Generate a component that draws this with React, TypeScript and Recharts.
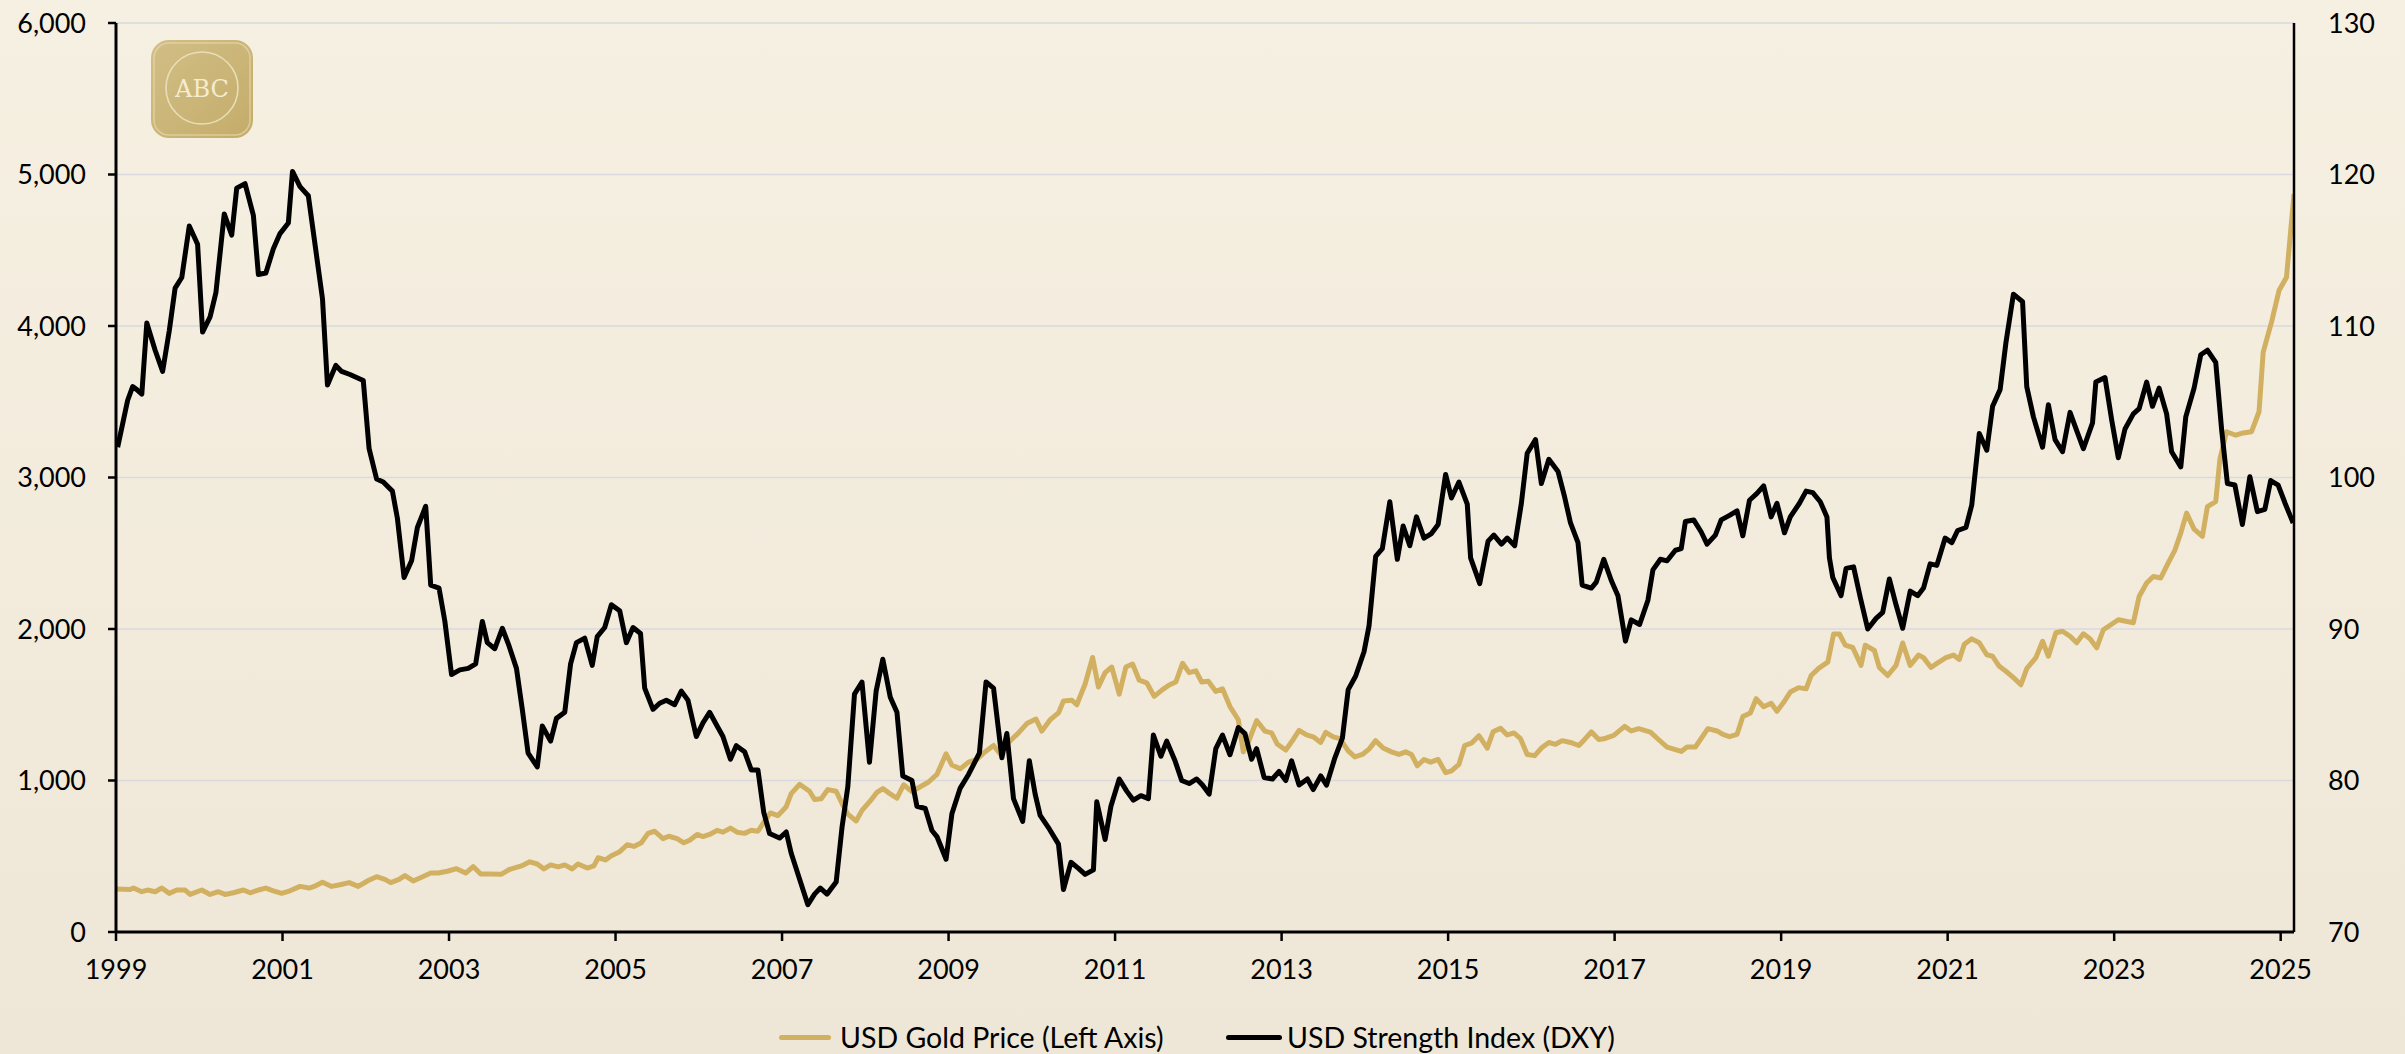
import React from 'react';
import { LineChart, Line, XAxis, YAxis, CartesianGrid, Legend } from 'recharts';

const yearTicks = [1999, 2001, 2003, 2005, 2007, 2009, 2011, 2013, 2015, 2017, 2019, 2021, 2023, 2025];
const goldTicks = [0, 1000, 2000, 3000, 4000, 5000, 6000];
const dxyTicks = [70, 80, 90, 100, 110, 120, 130];

const seriesNames = ['USD Gold Price (Left Axis)', 'USD Strength Index (DXY)'];

// [time (chart years), USD gold price]
const goldPoints: [number, number][] = [
  [1999.0, 284], [1999.17, 280], [1999.21, 290], [1999.31, 266], [1999.38, 277], [1999.47, 266], [1999.55, 290], [1999.64, 255],
  [1999.73, 277], [1999.83, 277], [1999.89, 248], [2000.03, 277], [2000.13, 248], [2000.23, 266], [2000.31, 248], [2000.41, 259],
  [2000.53, 277], [2000.61, 259], [2000.71, 277], [2000.8, 290], [2000.89, 272], [2000.99, 255], [2001.09, 272], [2001.21, 301],
  [2001.32, 290], [2001.38, 301], [2001.48, 329], [2001.59, 301], [2001.69, 312], [2001.8, 326], [2001.91, 301], [2002.03, 340],
  [2002.13, 365], [2002.23, 347], [2002.3, 326], [2002.4, 347], [2002.47, 372], [2002.57, 337], [2002.67, 361], [2002.78, 389],
  [2002.87, 389], [2002.98, 401], [2003.09, 418], [2003.2, 389], [2003.29, 432], [2003.38, 383], [2003.49, 383], [2003.63, 382],
  [2003.73, 414], [2003.87, 436], [2003.97, 463], [2004.06, 449], [2004.14, 416], [2004.22, 443], [2004.31, 430], [2004.39, 443],
  [2004.48, 416], [2004.55, 449], [2004.66, 422], [2004.74, 436], [2004.79, 490], [2004.88, 476], [2004.95, 503], [2005.05, 530],
  [2005.14, 576], [2005.22, 565], [2005.31, 589], [2005.39, 651], [2005.47, 665], [2005.57, 616], [2005.64, 632], [2005.74, 616],
  [2005.82, 589], [2005.89, 606], [2005.98, 644], [2006.05, 630], [2006.13, 644], [2006.22, 671], [2006.29, 659], [2006.38, 686],
  [2006.46, 659], [2006.55, 651], [2006.63, 671], [2006.71, 665], [2006.78, 724], [2006.86, 786], [2006.95, 768], [2007.05, 827],
  [2007.11, 913], [2007.21, 975], [2007.33, 929], [2007.39, 875], [2007.47, 880], [2007.55, 940], [2007.65, 929], [2007.72, 848],
  [2007.79, 778], [2007.89, 733], [2007.96, 803], [2008.06, 865], [2008.14, 922], [2008.21, 947], [2008.29, 915], [2008.38, 883],
  [2008.46, 972], [2008.56, 927], [2008.64, 952], [2008.76, 990], [2008.86, 1040], [2008.97, 1176], [2009.04, 1102], [2009.14, 1077],
  [2009.24, 1121], [2009.34, 1139], [2009.42, 1181], [2009.54, 1231], [2009.62, 1176], [2009.72, 1251], [2009.84, 1314], [2009.94, 1376],
  [2010.05, 1406], [2010.12, 1326], [2010.22, 1401], [2010.32, 1446], [2010.38, 1525], [2010.48, 1530], [2010.54, 1500], [2010.64, 1637],
  [2010.73, 1812], [2010.8, 1617], [2010.88, 1712], [2010.96, 1749], [2011.05, 1570], [2011.13, 1749], [2011.21, 1769], [2011.29, 1662],
  [2011.38, 1645], [2011.47, 1555], [2011.57, 1600], [2011.65, 1630], [2011.73, 1650], [2011.81, 1774], [2011.89, 1712], [2011.97, 1724],
  [2012.04, 1650], [2012.12, 1655], [2012.21, 1588], [2012.29, 1605], [2012.38, 1488], [2012.48, 1401], [2012.54, 1189], [2012.6, 1251],
  [2012.7, 1395], [2012.8, 1326], [2012.88, 1314], [2012.95, 1239], [2013.05, 1201], [2013.14, 1271], [2013.21, 1331], [2013.3, 1301],
  [2013.38, 1288], [2013.47, 1251], [2013.53, 1318], [2013.62, 1288], [2013.7, 1276], [2013.8, 1196], [2013.88, 1156], [2013.97, 1172],
  [2014.05, 1207], [2014.13, 1263], [2014.22, 1214], [2014.32, 1189], [2014.41, 1172], [2014.49, 1189], [2014.56, 1172], [2014.63, 1097],
  [2014.71, 1139], [2014.79, 1121], [2014.88, 1139], [2014.97, 1052], [2015.04, 1064], [2015.13, 1107], [2015.2, 1231], [2015.28, 1246],
  [2015.37, 1296], [2015.47, 1214], [2015.54, 1321], [2015.63, 1345], [2015.71, 1301], [2015.79, 1314], [2015.87, 1276], [2015.95, 1172],
  [2016.04, 1164], [2016.12, 1214], [2016.21, 1251], [2016.29, 1239], [2016.37, 1263], [2016.47, 1251], [2016.57, 1231], [2016.64, 1271],
  [2016.72, 1321], [2016.81, 1271], [2016.87, 1275], [2016.99, 1298], [2017.12, 1357], [2017.2, 1327], [2017.29, 1342], [2017.43, 1319],
  [2017.53, 1269], [2017.63, 1221], [2017.8, 1192], [2017.87, 1221], [2017.97, 1221], [2018.12, 1342], [2018.23, 1327], [2018.3, 1304],
  [2018.38, 1289], [2018.47, 1304], [2018.54, 1422], [2018.63, 1446], [2018.7, 1540], [2018.79, 1487], [2018.88, 1510], [2018.95, 1457],
  [2019.03, 1516], [2019.11, 1584], [2019.21, 1613], [2019.3, 1605], [2019.36, 1693], [2019.45, 1740], [2019.56, 1781], [2019.63, 1967],
  [2019.7, 1967], [2019.77, 1893], [2019.86, 1878], [2019.96, 1760], [2020.01, 1893], [2020.12, 1858], [2020.18, 1746], [2020.28, 1693],
  [2020.38, 1760], [2020.46, 1908], [2020.55, 1760], [2020.65, 1828], [2020.71, 1811], [2020.8, 1746], [2020.88, 1776], [2020.98, 1811],
  [2021.07, 1828], [2021.14, 1799], [2021.2, 1899], [2021.29, 1935], [2021.38, 1909], [2021.47, 1830], [2021.54, 1820], [2021.62, 1754],
  [2021.7, 1721], [2021.79, 1679], [2021.88, 1632], [2021.95, 1738], [2022.06, 1811], [2022.14, 1919], [2022.21, 1820], [2022.3, 1975],
  [2022.38, 1985], [2022.47, 1952], [2022.55, 1909], [2022.63, 1968], [2022.71, 1935], [2022.79, 1876], [2022.87, 1995], [2022.96, 2028],
  [2023.05, 2061], [2023.14, 2051], [2023.23, 2041], [2023.3, 2215], [2023.39, 2304], [2023.47, 2347], [2023.56, 2337], [2023.65, 2436],
  [2023.73, 2521], [2023.8, 2634], [2023.87, 2765], [2023.96, 2659], [2024.06, 2611], [2024.12, 2808], [2024.22, 2841], [2024.27, 3121],
  [2024.35, 3302], [2024.46, 3279], [2024.53, 3292], [2024.65, 3302], [2024.74, 3434], [2024.79, 3828], [2024.89, 4026], [2024.98, 4234],
  [2025.07, 4322], [2025.16, 4872],
];

// [time (chart years), DXY index]
const dxyPoints: [number, number][] = [
  [1999.02, 102.0], [1999.14, 105.1], [1999.2, 106.0], [1999.25, 105.8], [1999.31, 105.5], [1999.37, 110.2], [1999.47, 108.4], [1999.56, 107.0],
  [1999.64, 109.7], [1999.71, 112.5], [1999.79, 113.2], [1999.88, 116.6], [1999.98, 115.4], [2000.04, 109.6], [2000.13, 110.6], [2000.2, 112.2],
  [2000.3, 117.4], [2000.39, 116.0], [2000.45, 119.1], [2000.55, 119.4], [2000.65, 117.3], [2000.71, 113.4], [2000.8, 113.5], [2000.89, 115.1],
  [2000.97, 116.1], [2001.07, 116.8], [2001.12, 120.2], [2001.21, 119.2], [2001.31, 118.6], [2001.39, 115.4], [2001.48, 111.8], [2001.54, 106.1],
  [2001.64, 107.4], [2001.71, 107.0], [2001.81, 106.8], [2001.97, 106.4], [2002.04, 101.9], [2002.13, 99.9], [2002.21, 99.7], [2002.32, 99.1],
  [2002.38, 97.3], [2002.46, 93.4], [2002.55, 94.5], [2002.62, 96.7], [2002.72, 98.1], [2002.78, 92.9], [2002.88, 92.7], [2002.95, 90.5],
  [2003.03, 87.0], [2003.13, 87.3], [2003.23, 87.4], [2003.32, 87.7], [2003.4, 90.5], [2003.46, 89.1], [2003.55, 88.7], [2003.64, 90.05],
  [2003.72, 88.9], [2003.81, 87.4], [2003.88, 84.7], [2003.95, 81.8], [2004.06, 80.9], [2004.12, 83.6], [2004.22, 82.6], [2004.29, 84.1],
  [2004.39, 84.5], [2004.46, 87.7], [2004.53, 89.1], [2004.63, 89.4], [2004.72, 87.6], [2004.78, 89.5], [2004.87, 90.1], [2004.95, 91.6],
  [2005.05, 91.2], [2005.13, 89.1], [2005.21, 90.1], [2005.3, 89.7], [2005.35, 86.1], [2005.45, 84.7], [2005.53, 85.1], [2005.61, 85.3],
  [2005.71, 85.0], [2005.79, 85.9], [2005.87, 85.3], [2005.97, 82.9], [2006.05, 83.8], [2006.13, 84.5], [2006.21, 83.7], [2006.29, 82.9],
  [2006.38, 81.4], [2006.45, 82.3], [2006.55, 81.9], [2006.63, 80.7], [2006.71, 80.7], [2006.78, 77.9], [2006.85, 76.5], [2006.97, 76.2],
  [2007.05, 76.6], [2007.11, 75.2], [2007.21, 73.5], [2007.31, 71.8], [2007.39, 72.5], [2007.46, 72.9], [2007.54, 72.5], [2007.65, 73.3],
  [2007.72, 76.9], [2007.79, 79.6], [2007.87, 85.7], [2007.96, 86.5], [2008.05, 81.2], [2008.13, 85.9], [2008.21, 88.0], [2008.3, 85.5],
  [2008.38, 84.5], [2008.45, 80.3], [2008.56, 80.0], [2008.62, 78.3], [2008.72, 78.15], [2008.8, 76.7], [2008.86, 76.3], [2008.97, 74.8],
  [2009.04, 77.8], [2009.14, 79.5], [2009.24, 80.4], [2009.37, 81.8], [2009.45, 86.5], [2009.54, 86.1], [2009.64, 81.5], [2009.7, 83.1],
  [2009.78, 78.8], [2009.89, 77.3], [2009.97, 81.3], [2010.04, 79.1], [2010.1, 77.7], [2010.21, 76.8], [2010.32, 75.8], [2010.38, 72.8],
  [2010.47, 74.6], [2010.56, 74.2], [2010.64, 73.8], [2010.74, 74.1], [2010.78, 78.6], [2010.88, 76.1], [2010.95, 78.3], [2011.05, 80.1],
  [2011.14, 79.3], [2011.22, 78.7], [2011.31, 79.0], [2011.4, 78.8], [2011.46, 83.0], [2011.55, 81.6], [2011.62, 82.6], [2011.72, 81.3],
  [2011.8, 80.0], [2011.89, 79.8], [2011.98, 80.1], [2012.05, 79.7], [2012.13, 79.1], [2012.21, 82.1], [2012.29, 83.0], [2012.38, 81.7],
  [2012.48, 83.5], [2012.56, 83.1], [2012.64, 81.4], [2012.7, 82.1], [2012.79, 80.2], [2012.89, 80.1], [2012.97, 80.6], [2013.05, 80.0],
  [2013.12, 81.3], [2013.21, 79.7], [2013.31, 80.1], [2013.38, 79.4], [2013.47, 80.3], [2013.54, 79.7], [2013.64, 81.5], [2013.73, 82.8],
  [2013.8, 86.0], [2013.89, 86.9], [2013.99, 88.5], [2014.05, 90.2], [2014.13, 94.8], [2014.21, 95.3], [2014.3, 98.4], [2014.39, 94.6],
  [2014.46, 96.8], [2014.54, 95.5], [2014.62, 97.4], [2014.71, 96.0], [2014.8, 96.3], [2014.88, 96.9], [2014.97, 100.2], [2015.04, 98.65],
  [2015.13, 99.7], [2015.23, 98.25], [2015.27, 94.7], [2015.38, 93.0], [2015.48, 95.8], [2015.55, 96.2], [2015.64, 95.6], [2015.71, 96.0],
  [2015.8, 95.5], [2015.88, 98.3], [2015.95, 101.6], [2016.05, 102.5], [2016.12, 99.6], [2016.21, 101.2], [2016.32, 100.4], [2016.4, 98.7],
  [2016.47, 97.0], [2016.56, 95.7], [2016.61, 92.9], [2016.72, 92.7], [2016.78, 93.1], [2016.87, 94.6], [2016.96, 93.2], [2017.04, 92.2],
  [2017.13, 89.2], [2017.2, 90.6], [2017.3, 90.3], [2017.4, 91.9], [2017.46, 93.9], [2017.55, 94.6], [2017.63, 94.5], [2017.73, 95.2],
  [2017.8, 95.3], [2017.85, 97.1], [2017.95, 97.2], [2018.04, 96.4], [2018.11, 95.6], [2018.21, 96.2], [2018.28, 97.2], [2018.38, 97.5],
  [2018.47, 97.8], [2018.54, 96.15], [2018.62, 98.5], [2018.71, 98.95], [2018.79, 99.45], [2018.88, 97.4], [2018.95, 98.3], [2019.04, 96.35],
  [2019.11, 97.4], [2019.22, 98.3], [2019.3, 99.1], [2019.38, 99.0], [2019.47, 98.4], [2019.55, 97.4], [2019.58, 94.7], [2019.62, 93.4],
  [2019.72, 92.2], [2019.78, 94.0], [2019.87, 94.1], [2019.95, 92.1], [2020.04, 90.0], [2020.14, 90.7], [2020.22, 91.1], [2020.3, 93.3],
  [2020.38, 91.6], [2020.46, 90.05], [2020.55, 92.5], [2020.64, 92.2], [2020.71, 92.7], [2020.79, 94.3], [2020.87, 94.2], [2020.97, 96.0],
  [2021.05, 95.7], [2021.12, 96.5], [2021.22, 96.7], [2021.29, 98.2], [2021.38, 102.9], [2021.47, 101.8], [2021.54, 104.7], [2021.63, 105.8],
  [2021.7, 108.9], [2021.79, 112.1], [2021.9, 111.6], [2021.95, 106.0], [2022.03, 104.0], [2022.14, 102.0], [2022.21, 104.8], [2022.29, 102.5],
  [2022.38, 101.7], [2022.47, 104.3], [2022.55, 103.1], [2022.63, 101.9], [2022.74, 103.6], [2022.78, 106.3], [2022.89, 106.6], [2022.97, 103.8],
  [2023.05, 101.3], [2023.13, 103.2], [2023.23, 104.2], [2023.3, 104.55], [2023.39, 106.3], [2023.46, 104.7], [2023.54, 105.9], [2023.63, 104.2],
  [2023.69, 101.7], [2023.8, 100.7], [2023.86, 104.0], [2023.96, 105.9], [2024.04, 108.1], [2024.12, 108.4], [2024.22, 107.6], [2024.29, 103.2],
  [2024.36, 99.6], [2024.45, 99.5], [2024.54, 96.9], [2024.63, 100.05], [2024.72, 97.75], [2024.81, 97.9], [2024.88, 99.8], [2024.97, 99.5],
  [2025.06, 98.2], [2025.15, 97.0],
];

const goldData = goldPoints.map(([t, v]) => ({ t, gold: v }));
const dxyData = dxyPoints.map(([t, v]) => ({ t, dxy: v }));

const GOLD = '#D2B062';
const BLACK = '#000000';
const FONT = 'Lato, "Open Sans", sans-serif';
const W = 2405;
const H = 1054;

const fmtThousands = (v: number) => v.toLocaleString('en-US');

const LegendContent = () => (
  <div style={{ position: 'relative', width: W, height: 40, fontFamily: FONT, fontSize: 28.5, color: '#000' }}>
    <div style={{ position: 'absolute', left: 779, top: 0, height: 40, display: 'flex', alignItems: 'center', whiteSpace: 'nowrap' }}>
      <div style={{ width: 52, height: 5, background: GOLD, borderRadius: 3, marginRight: 9 }} />
      <span>{seriesNames[0]}</span>
    </div>
    <div style={{ position: 'absolute', left: 1226, top: 0, height: 40, display: 'flex', alignItems: 'center', whiteSpace: 'nowrap' }}>
      <div style={{ width: 56, height: 5, background: BLACK, borderRadius: 3, marginRight: 5 }} />
      <span>{seriesNames[1]}</span>
    </div>
  </div>
);

const Logo = () => (
  <svg style={{ position: 'absolute', left: 150, top: 39 }} width={104} height={100} viewBox="0 0 104 100">
    <defs>
      <linearGradient id="lg" x1="0" y1="0" x2="1" y2="1">
        <stop offset="0%" stopColor="#D2BF86" />
        <stop offset="100%" stopColor="#C4AC6A" />
      </linearGradient>
    </defs>
    <rect x={1} y={1} width={102} height={98} rx={18} ry={18} fill="url(#lg)" />
    <rect x={4} y={4} width={96} height={92} rx={15} ry={15} fill="none" stroke="#E6D9AE" strokeWidth={1.5} opacity={0.7} />
    <circle cx={52} cy={49} r={36} fill="none" stroke="#E9DEB8" strokeWidth={1.6} />
    <text x={52} y={58} textAnchor="middle" fontFamily='"DejaVu Serif", "Liberation Serif", serif' fontSize={24} fill="#F4ECD2">ABC</text>
  </svg>
);

export default function App() {
  return (
    <div
      style={{
        position: 'absolute',
        left: 0,
        top: 0,
        width: W,
        height: H,
        overflow: 'hidden',
        background: 'linear-gradient(180deg, #F6F0E2 0%, #F2EBDC 60%, #EEE6D6 100%)',
      }}
    >
      <LineChart width={W} height={H} margin={{ top: 23, right: 0, bottom: 62, left: 0 }}>
        <CartesianGrid yAxisId="left" vertical={false} stroke="#D9D9DF" strokeWidth={1.6} />
        <XAxis
          dataKey="t"
          type="number"
          domain={[1999, 2025.16]}
          ticks={yearTicks}
          allowDataOverflow
          height={60}
          tickFormatter={(v: number) => String(v)}
          axisLine={{ stroke: '#000', strokeWidth: 3 }}
          tickLine={{ stroke: '#000', strokeWidth: 2.5 }}
          tickSize={9}
          tickMargin={19}
          tick={{ fill: '#000', fontSize: 27, fontFamily: FONT }}
          interval={0}
        />
        <YAxis
          yAxisId="left"
          orientation="left"
          width={116}
          domain={[0, 6000]}
          ticks={goldTicks}
          allowDataOverflow
          tickFormatter={fmtThousands}
          axisLine={{ stroke: '#000', strokeWidth: 3 }}
          tickLine={{ stroke: '#000', strokeWidth: 2.5 }}
          tickSize={8}
          tickMargin={22}
          tick={{ fill: '#000', fontSize: 27, fontFamily: FONT }}
          interval={0}
        />
        <YAxis
          yAxisId="right"
          orientation="right"
          width={111}
          domain={[70, 130]}
          ticks={dxyTicks}
          allowDataOverflow
          axisLine={{ stroke: '#000', strokeWidth: 2.5 }}
          tickLine={false}
          tickSize={0}
          tickMargin={34}
          tick={{ fill: '#000', fontSize: 27, fontFamily: FONT }}
          interval={0}
        />
        <Legend
          verticalAlign="middle"
          align="center"
          content={() => <LegendContent />}
          wrapperStyle={{ position: 'absolute', top: 1017, left: 0, width: W, height: 40 }}
        />
        <Line
          yAxisId="left"
          data={goldData}
          dataKey="gold"
          name={seriesNames[0]}
          type="linear"
          stroke={GOLD}
          strokeWidth={5}
          dot={false}
          activeDot={false}
          strokeLinejoin="round"
          isAnimationActive={false}
        />
        <Line
          yAxisId="right"
          data={dxyData}
          dataKey="dxy"
          name={seriesNames[1]}
          type="linear"
          stroke={BLACK}
          strokeWidth={5}
          dot={false}
          activeDot={false}
          strokeLinejoin="round"
          isAnimationActive={false}
        />
      </LineChart>
      <Logo />
    </div>
  );
}
